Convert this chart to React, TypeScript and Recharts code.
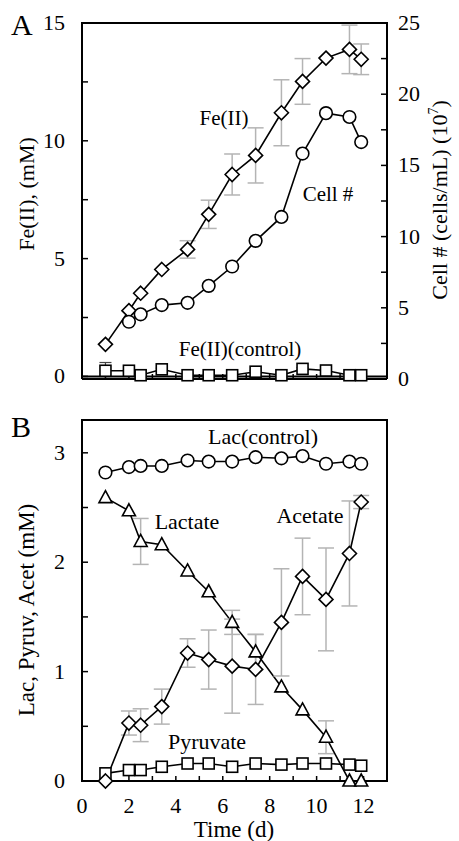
import React from 'react';
import { LineChart, Line, XAxis, YAxis, ErrorBar, ReferenceArea } from 'recharts';

// sampling days (d)
const days = [1, 2, 2.5, 3.4, 4.5, 5.4, 6.4, 7.4, 8.5, 9.4, 10.4, 11.4, 11.9];

// panel A
const fe = [1.36, 2.79, 3.53, 4.54, 5.39, 6.88, 8.57, 9.38, 11.19, 12.52, 13.51, 13.88, 13.46];
const feErr = [0, 0, 0, 0, 0.37, 0.6, 0.87, 1.17, 1.4, 0.97, 0, 1.03, 0.65];
const cells = [null, 4.02, 4.54, 5.19, 5.35, 6.54, 7.9, 9.7, 11.38, 15.83, 18.67, 18.4, 16.64];
const feCtrl = [0.24, 0.24, 0.05, 0.3, 0.05, 0.05, 0.05, 0.2, 0.05, 0.32, 0.25, 0.05, 0.05];
const feCtrlErr = [0.35, 0.05, 0.08, 0.05, 0.08, 0.05, 0.08, 0.05, 0.08, 0.05, 0.05, 0.05, 0.05];

// panel B
const lacCtrl = [2.82, 2.87, 2.88, 2.88, 2.93, 2.92, 2.92, 2.96, 2.95, 2.97, 2.9, 2.92, 2.9];
const lactate = [2.59, 2.47, 2.19, 2.16, 1.92, 1.73, 1.45, 1.18, 0.86, 0.65, 0.4, 0, 0];
const lactateErr = [0, 0, 0.21, 0, 0, 0, 0.11, 0.16, 0, 0, 0.15, 0, 0];
const acetate = [0, 0.53, 0.51, 0.68, 1.17, 1.11, 1.05, 1.02, 1.45, 1.87, 1.66, 2.08, 2.55];
const acetateErr = [0, 0.11, 0.15, 0.16, 0.13, 0.27, 0.43, 0.32, 0.49, 0.35, 0.47, 0.48, 0.06];
const pyruvate = [0.07, 0.1, 0.1, 0.13, 0.16, 0.16, 0.13, 0.16, 0.15, 0.16, 0.16, 0.15, 0.14];

// ticks
const timeTicks = [0, 1, 2, 3, 4, 5, 6, 7, 8, 9, 10, 11, 12, 13];
const feTicks = [0, 2.5, 5, 7.5, 10, 12.5, 15];
const cellTicks = [0, 2.5, 5, 7.5, 10, 12.5, 15, 17.5, 20, 22.5, 25];
const concTicks = [0, 0.5, 1, 1.5, 2, 2.5, 3];

const dataA = days.map((d, i) => ({
    day: d,
    fe: fe[i],
    feErr: feErr[i],
    cells: cells[i],
    feCtrl: feCtrl[i],
    feCtrlErr: feCtrlErr[i],
}));

const dataB = days.map((d, i) => ({
    day: d,
    lacCtrl: lacCtrl[i],
    lactate: lactate[i],
    lactateErr: lactateErr[i],
    acetate: acetate[i],
    acetateErr: acetateErr[i],
    pyruvate: pyruvate[i],
}));

const FONT = '"Liberation Serif", "Times New Roman", serif';
const ERR = '#b4b4b4';
const LW = 1.6;

const diamond = (p: any) => {
    const { cx, cy, index } = p;
    if (cx == null || cy == null) return <g key={`dm-${index}`} />;
    const r = 7;
    return <path key={`dm-${index}`} d={`M${cx},${cy - r}L${cx + r},${cy}L${cx},${cy + r}L${cx - r},${cy}Z`} fill="#fff" stroke="#000" strokeWidth={LW} />;
};

const circle = (p: any) => {
    const { cx, cy, index } = p;
    if (cx == null || cy == null) return <g key={`ci-${index}`} />;
    return <circle key={`ci-${index}`} cx={cx} cy={cy} r={6.3} fill="#fff" stroke="#000" strokeWidth={LW} />;
};

const square = (p: any) => {
    const { cx, cy, index } = p;
    if (cx == null || cy == null) return <g key={`sq-${index}`} />;
    const h = 5.5;
    return <rect key={`sq-${index}`} x={cx - h} y={cy - h} width={2 * h} height={2 * h} fill="#fff" stroke="#000" strokeWidth={LW} />;
};

const triangle = (p: any) => {
    const { cx, cy, index } = p;
    if (cx == null || cy == null) return <g key={`tr-${index}`} />;
    return <path key={`tr-${index}`} d={`M${cx},${cy - 7}L${cx + 6.5},${cy + 5}L${cx - 6.5},${cy + 5}Z`} fill="#fff" stroke="#000" strokeWidth={LW} />;
};

// tick label renderers (ticks are drawn inward via negative tickSize)
const leftTick = (show: (v: number) => boolean) => (p: any) => {
    const v = p.payload.value;
    if (!show(v)) return <g />;
    return <text x={p.x} y={p.y} dy={7} textAnchor="end" fontFamily={FONT} fontSize={22} fill="#000">{v}</text>;
};
const rightTick = (show: (v: number) => boolean) => (p: any) => {
    const v = p.payload.value;
    if (!show(v)) return <g />;
    return <text x={p.x} y={p.y} dy={7} textAnchor="start" fontFamily={FONT} fontSize={22} fill="#000">{v}</text>;
};
const bottomTick = (p: any) => {
    const v = p.payload.value;
    if (v % 2 !== 0) return <g />;
    return <text x={p.x} y={p.y} textAnchor="middle" fontFamily={FONT} fontSize={22} fill="#000">{v}</text>;
};
const noTick = () => <g />;

const axisLine = { stroke: '#000', strokeWidth: 2 };
const tickLine = { stroke: '#000', strokeWidth: 1.5 };

const PanelA = () => (
    <LineChart width={459} height={400} data={dataA} margin={{ top: 23, right: 32, bottom: 11, left: 42 }}>
        <XAxis dataKey="day" type="number" domain={[0, 13]} ticks={timeTicks} height={10}
            axisLine={axisLine} tickLine={tickLine} tickSize={-5} tick={noTick} />
        <YAxis yAxisId="fe" orientation="left" domain={[0, 15]} ticks={feTicks} width={40}
            axisLine={axisLine} tickLine={tickLine} tickSize={-6} tickMargin={23} tick={leftTick(v => v % 5 === 0)} />
        <YAxis yAxisId="cell" orientation="right" domain={[0, 25]} ticks={cellTicks} width={40}
            axisLine={axisLine} tickLine={tickLine} tickSize={-6} tickMargin={17} tick={rightTick(v => v % 5 === 0)} />
        <ReferenceArea yAxisId="fe" x1={0} x2={13} y1={0} y2={15} fill="none" stroke="#000" strokeWidth={2} />
        <Line yAxisId="fe" dataKey="feCtrl" stroke="#000" strokeWidth={LW} dot={square} isAnimationActive={false}>
            <ErrorBar dataKey="feCtrlErr" direction="y" width={6} stroke="#444" strokeWidth={1.2} />
        </Line>
        <Line yAxisId="fe" dataKey="fe" stroke="#000" strokeWidth={LW} dot={diamond} isAnimationActive={false}>
            <ErrorBar dataKey="feErr" direction="y" width={8} stroke={ERR} strokeWidth={1.5} />
        </Line>
        <Line yAxisId="cell" dataKey="cells" stroke="#000" strokeWidth={LW} dot={circle} isAnimationActive={false} />
    </LineChart>
);

const PanelB = () => (
    <LineChart width={459} height={441} data={dataB} margin={{ top: 20, right: 72, bottom: 20, left: 42 }}>
        <XAxis dataKey="day" type="number" domain={[0, 13]} ticks={timeTicks} height={40}
            axisLine={axisLine} tickLine={tickLine} tickSize={-5} tickMargin={37} tick={bottomTick} />
        <YAxis domain={[0, 3.3]} ticks={concTicks} width={40}
            axisLine={axisLine} tickLine={tickLine} tickSize={-6} tickMargin={23} tick={leftTick(v => Number.isInteger(v))} />
        <ReferenceArea x1={0} x2={13} y1={0} y2={3.3} fill="none" stroke="#000" strokeWidth={2} />
        <Line dataKey="pyruvate" stroke="#000" strokeWidth={LW} dot={square} isAnimationActive={false} />
        <Line dataKey="lactate" stroke="#000" strokeWidth={LW} dot={triangle} isAnimationActive={false}>
            <ErrorBar dataKey="lactateErr" direction="y" width={8} stroke={ERR} strokeWidth={1.5} />
        </Line>
        <Line dataKey="acetate" stroke="#000" strokeWidth={LW} dot={diamond} isAnimationActive={false}>
            <ErrorBar dataKey="acetateErr" direction="y" width={8} stroke={ERR} strokeWidth={1.5} />
        </Line>
        <Line dataKey="lacCtrl" stroke="#000" strokeWidth={LW} dot={circle} isAnimationActive={false} />
    </LineChart>
);

const t = { fontFamily: FONT, fill: '#000' } as const;

export default function App() {
    return (
        <div style={{ position: 'absolute', left: 0, top: 0, width: 459, height: 841, background: '#fff' }}>
            <div style={{ position: 'absolute', left: 0, top: 0 }}>
                <PanelA />
            </div>
            <div style={{ position: 'absolute', left: 0, top: 400 }}>
                <PanelB />
            </div>
            <svg width={459} height={841} style={{ position: 'absolute', left: 0, top: 0, pointerEvents: 'none' }}>
                <text x={11} y={35} fontSize={30} {...t}>A</text>
                <text x={11} y={437} fontSize={30} {...t}>B</text>
                <text x={224} y={125} fontSize={21} textAnchor="middle" {...t}>Fe(II)</text>
                <text x={328} y={201} fontSize={21} textAnchor="middle" {...t}>Cell #</text>
                <text x={240} y={356} fontSize={21} textAnchor="middle" {...t}>Fe(II)(control)</text>
                <text x={263} y={444} fontSize={22} textAnchor="middle" {...t}>Lac(control)</text>
                <text x={187} y={529} fontSize={22} textAnchor="middle" {...t}>Lactate</text>
                <text x={310} y={523} fontSize={22} textAnchor="middle" {...t}>Acetate</text>
                <text x={207} y={749} fontSize={22} textAnchor="middle" {...t}>Pyruvate</text>
                <text x={234} y={837} fontSize={23} textAnchor="middle" {...t}>Time (d)</text>
                <text x={34} y={194} fontSize={22} textAnchor="middle" transform="rotate(-90 34 194)" {...t}>Fe(II), (mM)</text>
                <text x={34} y={610} fontSize={23} textAnchor="middle" transform="rotate(-90 34 610)" {...t}>Lac, Pyruv, Acet (mM)</text>
                <text x={447} y={200} fontSize={22} textAnchor="middle" transform="rotate(-90 447 200)" {...t}>
                    Cell # (cells/mL) (10<tspan fontSize={14} dy={-9}>7</tspan><tspan dy={9}>)</tspan>
                </text>
            </svg>
        </div>
    );
}
